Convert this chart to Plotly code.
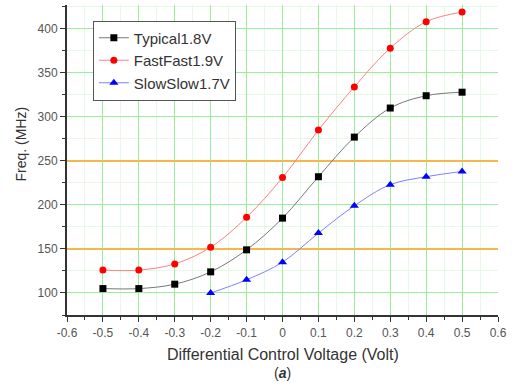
import plotly.graph_objects as go

x_typ = [-0.5, -0.4, -0.3, -0.2, -0.1, 0.0, 0.1, 0.2, 0.3, 0.4, 0.5]
y_typ = [105, 105, 110, 124, 149, 185, 232, 277, 310, 324, 328]
x_fast = [-0.5, -0.4, -0.3, -0.2, -0.1, 0.0, 0.1, 0.2, 0.3, 0.4, 0.5]
y_fast = [126, 126, 133, 152, 186, 231, 285, 334, 378, 408, 419]
x_slow = [-0.2, -0.1, 0.0, 0.1, 0.2, 0.3, 0.4, 0.5]
y_slow = [100, 115, 135, 168, 199, 223, 232, 238]
ref_levels = [150, 250]
x_ticks = [-0.6, -0.5, -0.4, -0.3, -0.2, -0.1, 0, 0.1, 0.2, 0.3, 0.4, 0.5, 0.6]
x_tick_labels = ["-0.6", "-0.5", "-0.4", "-0.3", "-0.2", "-0.1", "0", "0.1", "0.2", "0.3", "0.4", "0.5", "0.6"]
y_ticks = [100, 150, 200, 250, 300, 350, 400]

fig = go.Figure()
for lv in ref_levels:
    fig.add_trace(go.Scatter(x=[-0.6, 0.6], y=[lv, lv], mode="lines",
                             line=dict(color="#f5b74a", width=2), showlegend=False, hoverinfo="skip"))

fig.add_trace(go.Scatter(x=x_typ, y=y_typ, mode="lines+markers", name="Typical1.8V",
                         line=dict(color="#777777", width=1, shape="spline"),
                         marker=dict(symbol="square", size=7, color="black")))
fig.add_trace(go.Scatter(x=x_fast, y=y_fast, mode="lines+markers", name="FastFast1.9V",
                         line=dict(color="#ff8080", width=1, shape="spline"),
                         marker=dict(symbol="circle", size=7, color="red")))
fig.add_trace(go.Scatter(x=x_slow, y=y_slow, mode="lines+markers", name="SlowSlow1.7V",
                         line=dict(color="#8080ff", width=1, shape="spline"),
                         marker=dict(symbol="triangle-up", size=8, color="blue")))

fig.update_layout(
    width=516, height=387,
    margin=dict(l=67, r=18, t=5, b=72),
    paper_bgcolor="white", plot_bgcolor="white",
    font=dict(family="Liberation Sans, Arial, sans-serif", color="#333333"),
    legend=dict(x=0.06, y=0.95, xanchor="left", yanchor="top",
                bgcolor="white", bordercolor="#555555", borderwidth=1,
                font=dict(size=15, color="#333333"), tracegroupgap=0,
                itemwidth=30),
    xaxis=dict(range=[-0.6, 0.6], tickvals=x_ticks, ticktext=x_tick_labels,
               showgrid=True, gridcolor="#99ee99", gridwidth=1,
               minor=dict(dtick=0.05, showgrid=True, gridcolor="#e6f8e6", ticks="outside", ticklen=3, tickcolor="#333"),
               showline=True, linecolor="#333333", linewidth=2, ticks="outside", ticklen=5, tickcolor="#333",
               tickfont=dict(size=12, color="#555555"), zeroline=False, ticklabelstandoff=1),
    yaxis=dict(range=[75, 427], tickvals=y_ticks,
               showgrid=True, gridcolor="#99ee99", gridwidth=1,
               minor=dict(dtick=25, showgrid=True, gridcolor="#e6f8e6", ticks="outside", ticklen=3, tickcolor="#333"),
               showline=True, linecolor="#333333", linewidth=2, ticks="outside", ticklen=5, tickcolor="#333",
               tickfont=dict(size=12, color="#555555"), zeroline=False),
)
fig.add_annotation(text="Differential Control Voltage (Volt)", xref="paper", yref="paper",
                   x=0.5, y=-0.129, xanchor="center", yanchor="middle", showarrow=False,
                   font=dict(size=16, color="#333333"))
fig.add_annotation(text="Freq. (MHz)", xref="paper", yref="paper", textangle=-90,
                   x=-0.109, y=0.55, xanchor="center", yanchor="middle", showarrow=False,
                   font=dict(size=14, color="#333333"))
fig.add_annotation(text="(<b><i>a</i></b>)", xref="paper", yref="paper", x=0.5, y=-0.187,
                   xanchor="center", yanchor="middle", showarrow=False,
                   font=dict(size=14, color="#333333"))
fig.write_html("out.html")
